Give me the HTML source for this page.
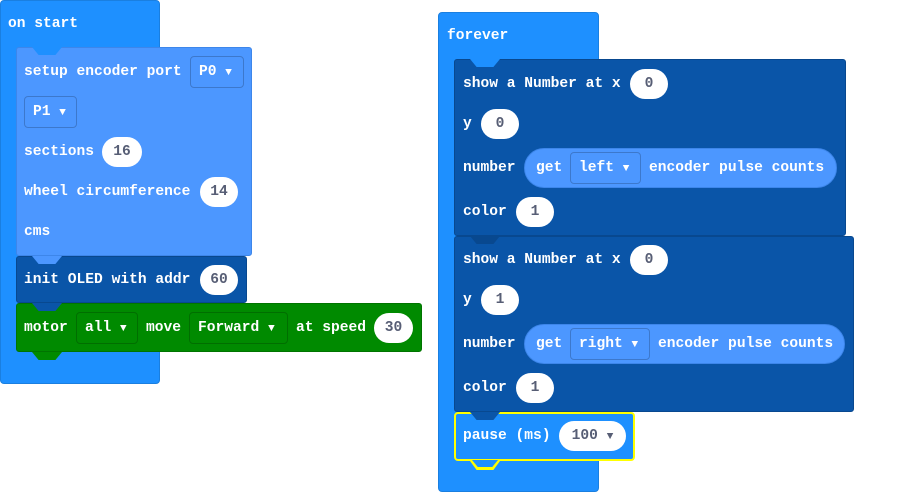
<!DOCTYPE html>
<html><head><style>
body{margin:0;width:906px;height:492px;background:#fff;position:relative;overflow:hidden;font-family:"Liberation Mono",monospace;font-weight:bold;font-size:14.6px;letter-spacing:0}
div{position:absolute;box-sizing:border-box}
.t{color:#fff;height:30px;line-height:30px;white-space:nowrap}
.p{background:#fff;color:#575e75;border-radius:15px;height:30px;line-height:30px;text-align:center}
.d{border:1px solid rgba(0,0,0,.2);border-radius:4px;height:32px;line-height:30px;color:#fff;padding-left:8px;white-space:nowrap}
.tab{width:30px;height:8px;clip-path:polygon(0 0,100% 0,78% 100%,22% 100%)}
.ar{font-size:11px}
</style></head><body>
<!-- on start -->
<div style="left:0;top:0;width:160px;height:384px;background:#1e90ff;border-radius:4px;border:1px solid #1a7fe0"></div>
<div class="t" style="left:8px;top:9px">on start</div>
<!-- setup -->
<div style="left:16px;top:47px;width:236px;height:209px;background:#4c97ff;border:1px solid #3d86ea;border-radius:3px"></div>
<div class="tab" style="left:32px;top:47px;background:#1e90ff"></div>
<div class="t" style="left:24px;top:57px">setup encoder port</div>
<div class="d" style="left:190px;top:56px;width:54px">P0 <span class="ar">▼</span></div>
<div class="d" style="left:24px;top:96px;width:53px">P1 <span class="ar">▼</span></div>
<div class="t" style="left:24px;top:137px">sections</div>
<div class="p" style="left:102px;top:137px;width:40px">16</div>
<div class="t" style="left:24px;top:177px">wheel circumference</div>
<div class="p" style="left:200px;top:177px;width:38px">14</div>
<div class="t" style="left:24px;top:217px">cms</div>
<!-- OLED -->
<div style="left:16px;top:256px;width:231px;height:47px;background:#0a55a8;border:1px solid #08488f;border-radius:3px"></div>
<div class="tab" style="left:32px;top:256px;background:#4c97ff"></div>
<div class="t" style="left:24px;top:265px">init OLED with addr</div>
<div class="p" style="left:200px;top:265px;width:38px">60</div>
<!-- motor -->
<div style="left:16px;top:303px;width:406px;height:49px;background:#008a00;border:1px solid #007400;border-radius:3px"></div>
<div class="tab" style="left:32px;top:303px;background:#0a55a8"></div>
<div class="tab" style="left:32px;top:352px;background:#008a00"></div>
<div class="t" style="left:24px;top:313px">motor</div>
<div class="d" style="left:76px;top:312px;width:62px">all <span class="ar">▼</span></div>
<div class="t" style="left:146px;top:313px">move</div>
<div class="d" style="left:189px;top:312px;width:99px">Forward <span class="ar">▼</span></div>
<div class="t" style="left:296px;top:313px">at speed</div>
<div class="p" style="left:374px;top:313px;width:39px">30</div>

<!-- forever -->
<div style="left:438px;top:12px;width:161px;height:480px;background:#1e90ff;border:1px solid #1a7fe0;border-radius:4px"></div>
<div class="t" style="left:447px;top:21px">forever</div>
<!-- show1 -->
<div style="left:454px;top:59px;width:392px;height:177px;background:#0a55a8;border:1px solid #08488f;border-radius:3px"></div>
<div class="tab" style="left:470px;top:59px;background:#1e90ff"></div>
<div class="t" style="left:463px;top:69px">show a Number at x</div>
<div class="p" style="left:630px;top:69px;width:38px">0</div>
<div class="t" style="left:463px;top:109px">y</div>
<div class="p" style="left:481px;top:109px;width:38px">0</div>
<div class="t" style="left:463px;top:153px">number</div>
<div style="left:524px;top:148px;width:313px;height:40px;background:#4c97ff;border:1px solid #3d86ea;border-radius:20px"></div>
<div class="t" style="left:536px;top:153px">get</div>
<div class="d" style="left:570px;top:152px;width:71px">left <span class="ar">▼</span></div>
<div class="t" style="left:649px;top:153px">encoder pulse counts</div>
<div class="t" style="left:463px;top:197px">color</div>
<div class="p" style="left:516px;top:197px;width:38px">1</div>
<!-- show2 -->
<div style="left:454px;top:236px;width:400px;height:176px;background:#0a55a8;border:1px solid #08488f;border-radius:3px"></div>
<div class="tab" style="left:470px;top:236px;background:#08488f"></div>
<div class="t" style="left:463px;top:245px">show a Number at x</div>
<div class="p" style="left:630px;top:245px;width:38px">0</div>
<div class="t" style="left:463px;top:285px">y</div>
<div class="p" style="left:481px;top:285px;width:38px">1</div>
<div class="t" style="left:463px;top:329px">number</div>
<div style="left:524px;top:324px;width:321px;height:40px;background:#4c97ff;border:1px solid #3d86ea;border-radius:20px"></div>
<div class="t" style="left:536px;top:329px">get</div>
<div class="d" style="left:570px;top:328px;width:80px">right <span class="ar">▼</span></div>
<div class="t" style="left:658px;top:329px">encoder pulse counts</div>
<div class="t" style="left:463px;top:373px">color</div>
<div class="p" style="left:516px;top:373px;width:38px">1</div>
<!-- pause -->
<div style="left:454px;top:412px;width:181px;height:49px;background:#1e90ff;border:2px solid #ffff00;border-radius:4px"></div>
<div class="tab" style="left:470px;top:412px;background:#0a55a8"></div>
<div class="tab" style="left:470px;top:461px;background:#ffff00;height:9px"></div>
<div class="tab" style="left:472px;top:460px;width:26px;height:7px;background:#1e90ff"></div>
<div class="t" style="left:463px;top:421px">pause (ms)</div>
<div class="p" style="left:559px;top:421px;width:67px;color:#575e75">100 <span class="ar">▼</span></div>
</body></html>
